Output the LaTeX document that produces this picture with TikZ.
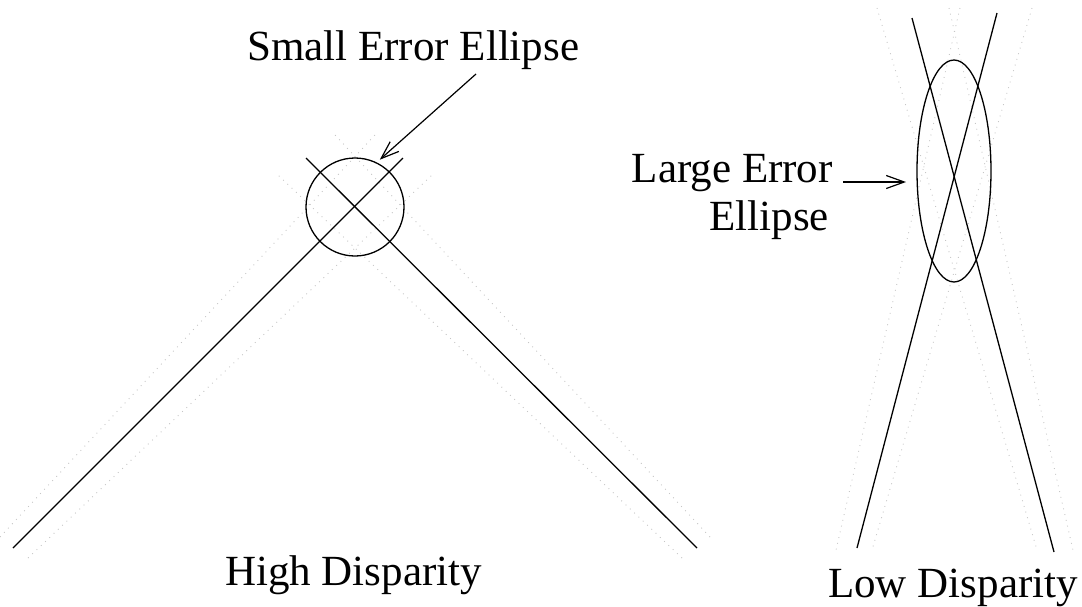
\documentclass[tikz,border=0pt]{standalone}
\usepackage{fontspec}
\setmainfont{Liberation Serif}
\usetikzlibrary{shapes.geometric,arrows.meta,positioning}

\begin{document}
\begin{tikzpicture}[
        x=1pt, y=-1pt,
        ray/.style={line width=1.3pt},
        bound/.style={gray!45, line width=0.9pt, dash pattern=on 0.9pt off 5pt},
        err/.style={draw, line width=1.3pt, inner sep=0pt},
        lbl/.style={font=\fontsize{43}{48}\selectfont, inner sep=0pt},
        arrow/.style={-{Straight Barb[length=18pt,width=13pt]}, line width=1.2pt}
    ]
        \useasboundingbox (0,0) rectangle (1082,606);

        % High disparity: faint bounds of each ray
        \draw[bound] (0,537) -- (375,135);
        \draw[bound] (28,558) -- (432,175);
        \draw[bound] (710,537) -- (335,135);
        \draw[bound] (682,558) -- (278,175);

        % Low disparity: faint bounds of each ray
        \draw[bound] (1032,8) -- (872,550);
        \draw[bound] (960,8) -- (836,550);
        \draw[bound] (877,8) -- (1037,550);
        \draw[bound] (949,8) -- (1073,550);

        % Rays, high disparity
        \coordinate (hl1) at (13,548);
        \coordinate (hr1) at (403,158);
        \coordinate (hl2) at (306,158);
        \coordinate (hr2) at (697,548);
        \draw[ray] (hl1) -- (hr1);
        \draw[ray] (hl2) -- (hr2);

        % Rays, low disparity
        \coordinate (la1) at (912,18);
        \coordinate (lb1) at (1054,552);
        \coordinate (la2) at (997,13);
        \coordinate (lb2) at (857,548);
        \draw[ray] (la1) -- (lb1);
        \draw[ray] (la2) -- (lb2);

        % Error ellipses
        \node[err, circle, minimum size=98pt] (smallerr) at (355,207) {};
        \node[err, ellipse, minimum width=74pt, minimum height=222pt] (largeerr) at (954,171) {};

        % Labels
        \node[lbl, anchor=base west] (smalltxt) at (247,60) {Small Error Ellipse};
        \node[lbl, anchor=base east] (largetxt) at (833,182) {Large Error};
        \node[lbl, anchor=base east] (largetxt2) at (829,230) {Ellipse};
        \node[lbl, anchor=base west] (hightxt) at (225,585) {High Disparity};
        \node[lbl, anchor=base east] (lowtxt) at (1078,597) {Low Disparity};

        % Pointers
        \coordinate (stail) at (476,74);
        \draw[arrow, shorten >=4pt] (stail) -- (smallerr.64);
        \coordinate (ltail) at (843,182);
        \coordinate (ltip) at (906,182);
        \draw[arrow] (ltail) -- (ltip);

    \end{tikzpicture}
\end{document}
